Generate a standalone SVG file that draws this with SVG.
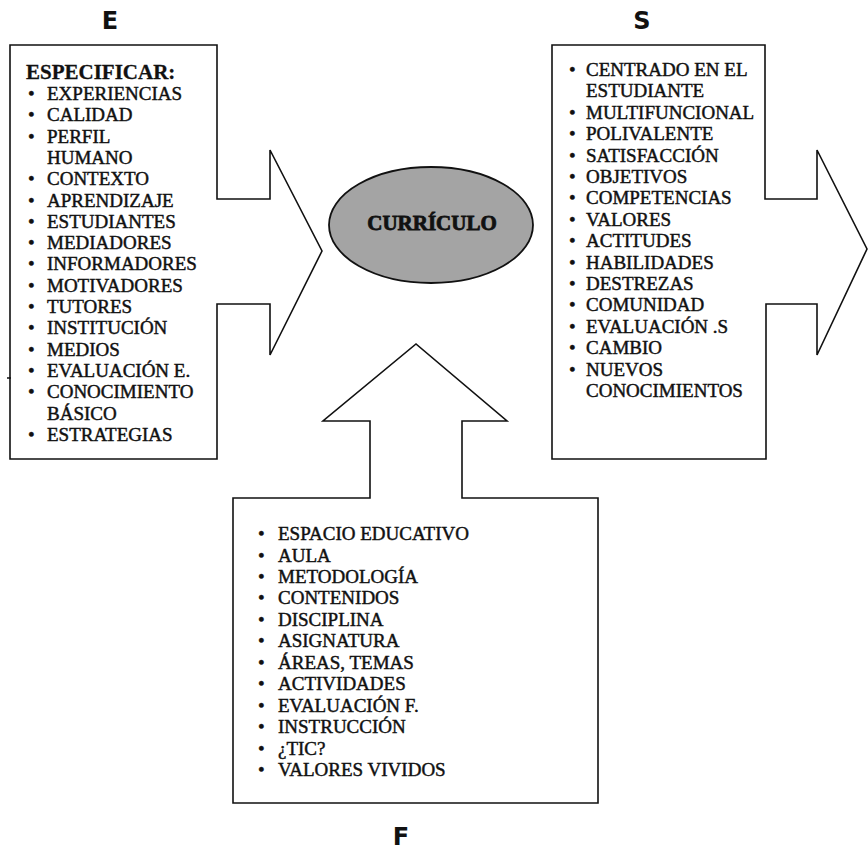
<svg xmlns="http://www.w3.org/2000/svg" width="868" height="852" viewBox="0 0 868 852">
<style>
.shape{fill:#fff;stroke:#111;stroke-width:1.6;stroke-linejoin:miter}
.it{font-family:"Liberation Serif","Times New Roman",serif;font-size:19px;fill:#111;stroke:#111;stroke-width:0.45}
.hd{font-family:"Liberation Serif","Times New Roman",serif;font-size:21px;font-weight:bold;fill:#111;stroke:#111;stroke-width:0.3}
.lt{font-family:"DejaVu Sans",Verdana,sans-serif;font-size:24px;font-weight:bold;fill:#111;text-anchor:middle}
.cur{font-family:"Liberation Serif","Times New Roman",serif;font-size:21px;font-weight:bold;fill:#111;stroke:#111;stroke-width:0.8;text-anchor:middle}
</style>
<rect width="868" height="852" fill="#fff"/>
<g id="connectors"></g>
<g id="node-E">
<path class="shape" d="M10,45 H217 V199 H270 V150 L322,251 L270,355 V304 H217 V459 H10 Z"/>
<line x1="7" y1="378" x2="11" y2="378" stroke="#111" stroke-width="1.5"/>
<text class="lt" x="110" y="29">E</text>
<text class="hd" x="26" y="79">ESPECIFICAR:</text>
<g class="it">
<text x="28" y="100">•</text><text x="47" y="100">EXPERIENCIAS</text>
<text x="28" y="121.3">•</text><text x="47" y="121.3">CALIDAD</text>
<text x="28" y="142.6">•</text><text x="47" y="142.6">PERFIL</text>
<text x="47" y="163.9">HUMANO</text>
<text x="28" y="185.2">•</text><text x="47" y="185.2">CONTEXTO</text>
<text x="28" y="206.5">•</text><text x="47" y="206.5">APRENDIZAJE</text>
<text x="28" y="227.8">•</text><text x="47" y="227.8">ESTUDIANTES</text>
<text x="28" y="249.1">•</text><text x="47" y="249.1">MEDIADORES</text>
<text x="28" y="270.4">•</text><text x="47" y="270.4">INFORMADORES</text>
<text x="28" y="291.7">•</text><text x="47" y="291.7">MOTIVADORES</text>
<text x="28" y="313">•</text><text x="47" y="313">TUTORES</text>
<text x="28" y="334.3">•</text><text x="47" y="334.3">INSTITUCIÓN</text>
<text x="28" y="355.6">•</text><text x="47" y="355.6">MEDIOS</text>
<text x="28" y="376.9">•</text><text x="47" y="376.9">EVALUACIÓN E.</text>
<text x="28" y="398.2">•</text><text x="47" y="398.2">CONOCIMIENTO</text>
<text x="47" y="419.5">BÁSICO</text>
<text x="28" y="440.8">•</text><text x="47" y="440.8">ESTRATEGIAS</text>
</g>
</g>
<g id="node-S">
<path class="shape" d="M552,45 H765 V199 H817 V150 L867,249 L817,355 V304 H766 V459 H552 Z"/>
<text class="lt" x="642" y="29">S</text>
<g class="it">
<text x="569" y="76">•</text><text x="586" y="76">CENTRADO EN EL</text>
<text x="586" y="97.4">ESTUDIANTE</text>
<text x="569" y="118.8">•</text><text x="586" y="118.8">MULTIFUNCIONAL</text>
<text x="569" y="140.2">•</text><text x="586" y="140.2">POLIVALENTE</text>
<text x="569" y="161.6">•</text><text x="586" y="161.6">SATISFACCIÓN</text>
<text x="569" y="183">•</text><text x="586" y="183">OBJETIVOS</text>
<text x="569" y="204.4">•</text><text x="586" y="204.4">COMPETENCIAS</text>
<text x="569" y="225.8">•</text><text x="586" y="225.8">VALORES</text>
<text x="569" y="247.2">•</text><text x="586" y="247.2">ACTITUDES</text>
<text x="569" y="268.6">•</text><text x="586" y="268.6">HABILIDADES</text>
<text x="569" y="290">•</text><text x="586" y="290">DESTREZAS</text>
<text x="569" y="311.4">•</text><text x="586" y="311.4">COMUNIDAD</text>
<text x="569" y="332.8">•</text><text x="586" y="332.8">EVALUACIÓN .S</text>
<text x="569" y="354.2">•</text><text x="586" y="354.2">CAMBIO</text>
<text x="569" y="375.6">•</text><text x="586" y="375.6">NUEVOS</text>
<text x="586" y="397">CONOCIMIENTOS</text>
</g>
</g>
<g id="node-curriculo">
<ellipse cx="431" cy="225" rx="102" ry="58" fill="#a4a4a4" stroke="#111" stroke-width="1.8"/>
<text class="cur" x="432" y="230">CURRÍCULO</text>
</g>
<g id="node-F">
<path class="shape" d="M233,498 H370 V421 H323 L416,344 L507,421 H462 V498 H598 V803 H233 Z"/>
<text class="lt" x="401" y="845">F</text>
<g class="it">
<text x="258" y="540">•</text><text x="278" y="540">ESPACIO EDUCATIVO</text>
<text x="258" y="561.5">•</text><text x="278" y="561.5">AULA</text>
<text x="258" y="583">•</text><text x="278" y="583">METODOLOGÍA</text>
<text x="258" y="604.4">•</text><text x="278" y="604.4">CONTENIDOS</text>
<text x="258" y="625.8">•</text><text x="278" y="625.8">DISCIPLINA</text>
<text x="258" y="647.3">•</text><text x="278" y="647.3">ASIGNATURA</text>
<text x="258" y="668.7">•</text><text x="278" y="668.7">ÁREAS, TEMAS</text>
<text x="258" y="690.2">•</text><text x="278" y="690.2">ACTIVIDADES</text>
<text x="258" y="711.6">•</text><text x="278" y="711.6">EVALUACIÓN F.</text>
<text x="258" y="733">•</text><text x="278" y="733">INSTRUCCIÓN</text>
<text x="258" y="754.5">•</text><text x="278" y="754.5">¿TIC?</text>
<text x="258" y="776">•</text><text x="278" y="776">VALORES VIVIDOS</text>
</g>
</g>
</svg>
